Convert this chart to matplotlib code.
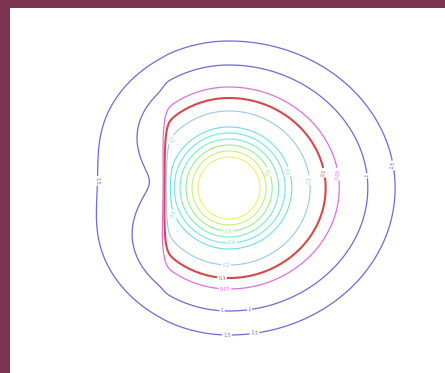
import numpy as np
import matplotlib
matplotlib.use("Agg")
import matplotlib.pyplot as plt

# contour levels (distance units from the core), innermost first
levels = [31, 37, 43, 49, 55, 61, 77, 90, 101, 123, 147]
line_colors = ["#f0f060", "#c8f070", "#98f08c", "#78f0c0", "#70e8e4", "#70dcf0",
               "#98c8f0", "#d84848", "#e070e0", "#6e6adc", "#6c6ce0"]
line_widths = [0.8, 0.8, 0.8, 0.8, 0.8, 0.8, 0.8, 1.5, 0.9, 0.9, 0.9]
level_labels = ["0.8", "0.7", "0.6", "0.5", "0.4", "0.3", "0.2", "0.1", "0.05", "1", "1.5"]

# label anchor points (x, y) in panel pixels
label_points = [(268, 172), (287, 172), (228, 230), (232, 243), (172, 215),
                (172, 140), (312, 180), (226, 264), (222, 277), (323, 173),
                (333, 175), (225, 289), (365, 176), (222, 313), (250, 313),
                (105, 181), (395, 165), (227, 337), (255, 337)]

# shape of the field: core centre, right-side stretch, and a wall on the left
CX, CY = 229, 188
RIGHT_STRETCH = 0.13
WALL_X, WALL_S = 164, 2.0
WALL_H, WALL_DECAY, WALL_Y, WALL_SPAN = 58, 50, 185, 60

BORDER = "#7c3450"

gx = np.linspace(10, 445, 871)
gy = np.linspace(8, 373, 731)
X, Y = np.meshgrid(gx, gy)
dx = X - CX
dy = Y - CY
r0 = np.hypot(dx, dy)
stretch = 1 + RIGHT_STRETCH * np.clip((r0 - 40) / 100, 0, 1)
dx_s = np.where(dx > 0, dx / stretch, dx)
r = np.hypot(dx_s, dy)

left = np.clip(WALL_X - X, 0, None)
step = 1 / (1 + np.exp(-(WALL_X - X) / WALL_S))
wall = (WALL_H * step * np.exp(-left / WALL_DECAY)
        * np.exp(-((Y - WALL_Y) / WALL_SPAN) ** 2))
field = r + wall

fig = plt.figure(figsize=(4.45, 3.73), dpi=100, facecolor=BORDER)
ax = fig.add_axes([10 / 445, 0, 435 / 445, 365 / 373])
ax.set_facecolor("white")
cs = ax.contour(X, Y, field, levels=levels, colors=line_colors, linewidths=line_widths)
ax.clabel(cs, levels, fmt=dict(zip(levels, level_labels)), fontsize=3.5,
          inline=True, inline_spacing=1, manual=label_points)
ax.set_xlim(10, 445)
ax.set_ylim(373, 8)
ax.set_xticks([])
ax.set_yticks([])
for s in ax.spines.values():
    s.set_visible(False)

fig.savefig("out.png", dpi=100, facecolor=BORDER)
